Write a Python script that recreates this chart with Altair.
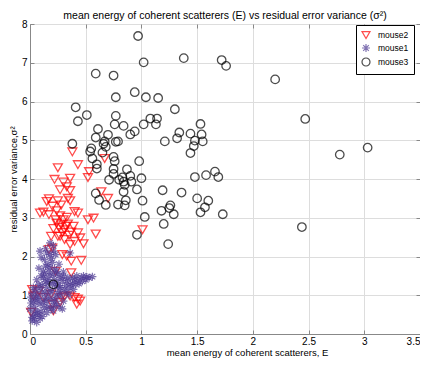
import altair as alt
import pandas as pd

# mouse2 (red triangles)
m2_x = [0.38, 0.25, 0.43, 0.53, 0.52, 0.67, 0.22, 0.30, 0.36, 0.33, 0.27, 0.36, 0.17, 0.25, 0.28, 0.34,
        0.36, 0.15, 0.09, 0.17, 0.24, 0.23, 0.40, 0.43, 0.52, 0.57, 0.64, 0.70, 0.30, 0.21, 0.28, 0.34,
        0.39, 0.31, 0.37, 0.43, 0.59, 1.01, 0.25, 0.31, 0.40, 0.48, 0.36, 0.20, 0.17, 0.29, 0.33, 0.37,
        0.46, 0.37, 0.23, 0.02, 0.08, 0.28, 0.31, 0.36, 0.40, 0.43, 0.42, 0.20, 0.21, 0.01, 0.03, 0.12,
        0.33, 0.26, 0.29, 0.35, 0.24, 0.32, 0.27, 0.20, 0.45, 0.12, 0.19, 0.27, 0.27, 0.19, 0.45]
m2_y = [4.70, 4.29, 4.37, 4.19, 4.04, 4.53, 3.99, 3.92, 4.02, 3.80, 3.72, 3.70, 3.49, 3.44, 3.33, 3.50,
        3.44, 3.42, 3.12, 3.08, 3.18, 2.95, 3.16, 3.12, 2.95, 2.99, 3.67, 3.50, 2.95, 2.72, 2.82, 2.84,
        2.78, 2.69, 2.63, 2.61, 2.58, 2.69, 2.52, 2.44, 2.39, 2.33, 2.31, 2.22, 2.18, 2.05, 2.01, 1.88,
        1.90, 1.58, 1.62, 1.15, 1.11, 0.94, 0.98, 0.98, 0.94, 0.90, 0.77, 0.77, 0.60, 0.56, 0.98, 0.94,
        3.01, 2.75, 2.62, 2.55, 2.86, 2.78, 3.05, 3.30, 2.48, 3.15, 2.52, 2.52, 0.82, 1.03, 0.85]

# mouse1 (purple asterisks)
m1_x = [0.18, 0.21, 0.09, 0.15, 0.21, 0.18, 0.13, 0.16, 0.18, 0.12, 0.24, 0.20, 0.10, 0.14, 0.22, 0.36,
        0.26, 0.08,
        0.10, 0.18, 0.27, 0.33, 0.36, 0.46, 0.53, 0.51, 0.41, 0.39, 0.27, 0.15, 0.22, 0.14, 0.30, 0.06,
        0.20, 0.25, 0.43, 0.48, 0.38, 0.32, 0.08, 0.12, 0.24, 0.29,
        0.06, 0.03, 0.09, 0.15, 0.21, 0.03, 0.02, 0.00, 0.21, 0.25, 0.33, 0.30, 0.02, 0.05, 0.08, 0.11,
        0.13, 0.17, 0.19, 0.23, 0.04, 0.07, 0.10, 0.12, 0.16, 0.05, 0.01, 0.14, 0.18, 0.28, 0.35, 0.26,
        0.02, 0.09, 0.06,
        0.05, 0.11, 0.16, 0.21, 0.26, 0.31, 0.34, 0.40, 0.44, 0.50, 0.56, 0.19, 0.14, 0.23, 0.17, 0.07,
        0.11, 0.04, 0.15, 0.19, 0.22, 0.13, 0.09, 0.03, 0.27, 0.36, 0.24, 0.29, 0.01, 0.17, 0.23, 0.13,
        0.30, 0.20, 0.07, 0.38, 0.42, 0.47]
m1_y = [2.35, 2.28, 2.14, 2.09, 2.14, 2.05, 1.92, 1.79, 1.71, 1.62, 1.62, 1.85, 1.98, 1.75, 1.68, 2.09,
        1.80, 1.70,
        1.50, 1.50, 1.45, 1.37, 1.28, 1.45, 1.45, 1.47, 1.28, 1.15, 1.20, 1.20, 1.40, 1.35, 1.50, 1.40,
        1.30, 1.55, 1.38, 1.50, 1.45, 1.25, 1.28, 1.45, 1.32, 1.38,
        1.03, 0.85, 0.77, 0.85, 0.73, 0.51, 0.34, 0.64, 0.60, 1.03, 1.07, 0.85, 0.43, 0.60, 0.95, 1.08,
        0.68, 0.98, 0.88, 0.95, 0.72, 0.48, 0.58, 0.82, 0.70, 0.92, 0.80, 1.05, 1.12, 0.98, 1.00, 0.70,
        1.05, 0.40, 0.30,
        1.15, 1.25, 1.40, 1.55, 1.25, 1.15, 1.45, 1.40, 1.30, 1.40, 1.48, 1.95, 2.20, 2.05, 1.60, 0.55,
        0.45, 0.40, 0.55, 0.65, 0.85, 0.92, 1.18, 1.20, 1.10, 1.18, 0.78, 0.65, 0.95, 1.32, 1.22, 1.55,
        1.60, 1.10, 0.85, 1.30, 1.50, 1.36]

# mouse3 (black circles)
m3_x = [0.97, 1.02, 1.38, 1.72, 1.76, 0.59, 0.75, 0.77, 0.94, 1.04, 1.15, 0.41, 0.51, 0.43, 0.77, 1.30,
        0.76, 0.84, 0.90, 0.94, 1.02, 1.08, 1.14, 1.13, 0.61, 0.70, 0.59, 0.67, 0.66, 0.77, 0.79, 0.38,
        0.55, 0.54, 0.65, 0.68, 0.56, 0.60, 0.60, 0.75, 0.76, 0.98, 0.75, 0.87, 0.75, 0.83, 0.90, 1.00,
        0.71, 0.80, 0.84, 0.91, 0.85, 0.96, 0.84, 0.59, 0.62, 0.68, 0.79, 0.86, 0.85, 1.01, 1.03, 0.96,
        1.19, 1.36, 1.18, 1.26, 1.25, 1.29, 1.20, 1.24, 1.34, 1.32, 1.21, 1.44, 1.53, 1.54, 1.48, 1.55,
        1.47, 1.44, 1.48, 1.58, 1.66, 1.69, 1.50, 1.60, 1.57, 1.53, 1.73, 2.20, 2.47, 2.78, 3.03, 2.44,
        0.21]
m3_y = [7.69, 7.01, 7.12, 7.07, 6.92, 6.72, 6.67, 6.11, 6.24, 6.11, 6.09, 5.85, 5.65, 5.49, 5.63, 5.80,
        5.41, 5.37, 5.15, 5.23, 5.41, 5.56, 5.56, 5.41, 5.29, 5.14, 5.07, 4.97, 4.91, 4.96, 4.97, 4.91,
        4.79, 4.71, 4.68, 4.83, 4.53, 4.38, 4.27, 4.57, 4.46, 4.46, 4.26, 4.25, 4.13, 4.04, 4.08, 4.02,
        3.98, 3.98, 3.93, 3.93, 3.85, 3.73, 3.67, 3.63, 3.46, 3.33, 3.34, 3.45, 3.32, 3.44, 3.02, 2.56,
        3.71, 3.65, 3.18, 3.32, 3.25, 3.09, 2.84, 2.32, 5.20, 5.05, 4.97, 5.17, 5.42, 5.15, 4.99, 4.97,
        4.85, 4.67, 4.05, 4.10, 4.19, 4.05, 3.50, 3.44, 3.27, 3.14, 3.09, 6.57, 5.55, 4.63, 4.81, 2.76,
        1.28]

series_names = ["mouse2", "mouse1", "mouse3"]
series_colors = ["#ff0000", "#4e3a94", "#000000"]
asterisk = "M-1,0L1,0M0,-1L0,1M-0.7,-0.7L0.7,0.7M-0.7,0.7L0.7,-0.7"
series_shapes = ["triangle-down", asterisk, "circle"]
series_sizes = [81, 64, 72]
series_widths = [1.3, 1.2, 1.3]

x_ticks = [0, 0.5, 1, 1.5, 2, 2.5, 3, 3.5]
y_ticks = [0, 1, 2, 3, 4, 5, 6, 7, 8]

rows = []
for i, (xs, ys) in enumerate([(m2_x, m2_y), (m1_x, m1_y), (m3_x, m3_y)]):
    for a, b in zip(xs, ys):
        rows.append({"E": a, "V": b, "series": series_names[i],
                     "sz": series_sizes[i], "sw": series_widths[i]})
df = pd.DataFrame(rows)

W, H = 390, 310
FONT = "Liberation Sans"
xs = alt.Scale(domain=[0, 3.5], nice=False, zero=False)
ys = alt.Scale(domain=[0, 8], nice=False, zero=False)

main = alt.Chart(df).mark_point(filled=False).encode(
    x=alt.X("E:Q", scale=xs, axis=alt.Axis(
        orient="bottom", values=x_ticks, format="~g", tickSize=0, labelPadding=2,
        title="mean energy of coherent scatterers, E", titlePadding=1,
        titleX=217, titleFontWeight="normal", titleFontSize=9.5)),
    y=alt.Y("V:Q", scale=ys, axis=alt.Axis(
        orient="left", values=y_ticks, tickSize=0, labelPadding=3,
        title="residual error variance,σ²", titlePadding=3,
        titleFontWeight="normal", titleFontSize=9.5)),
    color=alt.Color("series:N", scale=alt.Scale(domain=series_names, range=series_colors),
                    legend=alt.Legend(title=None, orient="none", legendX=326, legendY=1,
                                      strokeColor="black", fillColor="white", padding=5,
                                      labelFontSize=8.5, labelFont=FONT, symbolSize=64,
                                      symbolStrokeWidth=1.2, rowPadding=0, labelOffset=7)),
    shape=alt.Shape("series:N", scale=alt.Scale(domain=series_names, range=series_shapes)),
    size=alt.Size("sz:Q", scale=None),
    strokeWidth=alt.StrokeWidth("sw:Q", scale=None),
)

ticks_a = alt.Chart(df).mark_point(opacity=0).encode(
    x=alt.X("E:Q", scale=xs, axis=alt.Axis(orient="top", offset=-H, values=x_ticks, labels=False,
                                           domain=False, tickSize=4, title=None)),
    y=alt.Y("V:Q", scale=ys, axis=alt.Axis(orient="right", offset=-W, values=y_ticks, labels=False,
                                           domain=False, tickSize=4, title=None)),
)
ticks_b = alt.Chart(df).mark_point(opacity=0).encode(
    x=alt.X("E:Q", scale=xs, axis=alt.Axis(orient="bottom", offset=-H, values=x_ticks, labels=False,
                                           domain=False, tickSize=4, title=None)),
    y=alt.Y("V:Q", scale=ys, axis=alt.Axis(orient="left", offset=-W, values=y_ticks, labels=False,
                                           domain=False, tickSize=4, title=None)),
)

chart = alt.layer(main, ticks_a, ticks_b).resolve_axis(
    x="independent", y="independent"
).properties(
    width=W, height=H,
    autosize=alt.AutoSizeParams(type="none"),
    padding={"left": 22, "top": 16, "right": 0, "bottom": 24},
    title=alt.TitleParams("mean energy of coherent scatterers (E) vs residual error variance (σ²)",
                          fontSize=10.5, font=FONT, fontWeight="normal", offset=7, dy=9,
                          color="black"),
).configure_axis(
    grid=False, domainColor="black", domainWidth=1.3, tickColor="black", tickWidth=1,
    labelColor="black", titleColor="black", labelFont=FONT, titleFont=FONT, labelFontSize=8.5,
).configure_view(
    stroke="black", strokeWidth=1.3
).configure(background="white")

chart.save("out.html", embed_options={"renderer": "svg", "actions": False})
